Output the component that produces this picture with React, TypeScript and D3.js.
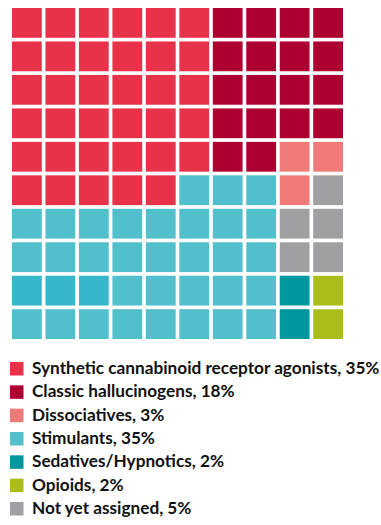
import React from "react";
import * as d3 from "d3";

const categories = [
  "Synthetic cannabinoid receptor agonists",
  "Classic hallucinogens",
  "Dissociatives",
  "Stimulants",
  "Sedatives/Hypnotics",
  "Opioids",
  "Not yet assigned",
];
const percentages = [35, 18, 3, 35, 2, 2, 5];
const colors = ["#e8324a", "#ae0030", "#ef7a78", "#52bfcc", "#00979e", "#abbd1a", "#a0a0a2"];
// cell layout: category index per cell (row by row); "s" = stimulant cell in slightly darker shade
const layoutRows = [
  "0000001111",
  "0000001111",
  "0000001111",
  "0000001111",
  "0000001122",
  "0000033326",
  "3333333366",
  "3333333366",
  "sss3333345",
  "3333333345",
];
const altStimulantColor = "#36b6c8";

export default function App() {
  const W = 381, H = 525;
  const x = d3.scaleBand<number>().domain(d3.range(10)).range([12, 343]).paddingInner(0.11);
  const y = d3.scaleBand<number>().domain(d3.range(10)).range([8, 339]).paddingInner(0.11);
  const cells: { r: number; c: number; fill: string }[] = [];
  layoutRows.forEach((row, r) => {
    row.split("").forEach((ch, c) => {
      const fill = ch === "s" ? altStimulantColor : colors[+ch];
      cells.push({ r, c, fill });
    });
  });
  const ly = d3.scaleLinear().domain([0, 6]).range([374, 514]);
  return (
    <svg width={W} height={H} style={{ position: "absolute", left: 0, top: 0 }}>
      {cells.map((d, i) => (
        <rect key={i} x={x(d.c)} y={y(d.r)} width={x.bandwidth()} height={y.bandwidth()} fill={d.fill} />
      ))}
      {categories.map((name, i) => (
        <g key={name}>
          <rect x={10} y={ly(i) - 12} width={13.5} height={13.5} fill={colors[i]} />
          <text x={32} y={ly(i)} fontFamily="Lato, sans-serif" fontWeight="bold" fontSize={17.2} fill="#111">
            {`${name}, ${percentages[i]}%`}
          </text>
        </g>
      ))}
    </svg>
  );
}
